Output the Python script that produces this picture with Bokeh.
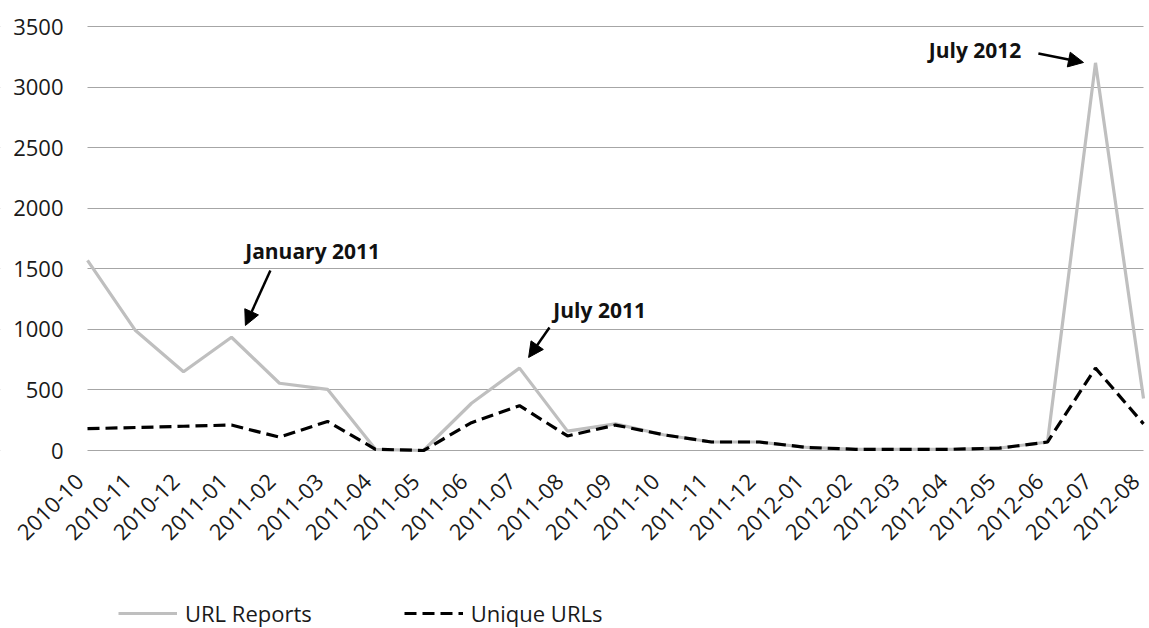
import math
from bokeh.plotting import figure
from bokeh.models import (ColumnDataSource, Range1d, FixedTicker, Legend, LegendItem,
                          Arrow, NormalHead, BoxAnnotation, LinearAxis)
from bokeh.core.properties import value
from bokeh.embed import file_html
from bokeh.resources import INLINE

months = ["2010-10", "2010-11", "2010-12", "2011-01", "2011-02", "2011-03", "2011-04",
          "2011-05", "2011-06", "2011-07", "2011-08", "2011-09", "2011-10", "2011-11",
          "2011-12", "2012-01", "2012-02", "2012-03", "2012-04", "2012-05", "2012-06",
          "2012-07", "2012-08"]
url_reports = [1570, 990, 650, 935, 555, 505, 10, 0, 390, 680, 160, 220, 130, 70,
               70, 25, 10, 10, 10, 20, 70, 3200, 430]
unique_urls = [180, 190, 200, 210, 110, 240, 10, 0, 230, 370, 120, 210, 130, 70,
               70, 25, 10, 10, 10, 20, 70, 680, 220]
y_ticks = [0, 500, 1000, 1500, 2000, 2500, 3000, 3500]

ann_text = ["January 2011", "July 2011", "July 2012"]
ann_x = [4.69, 10.67, 18.49]
ann_y = [1643, 1156, 3302]
arr_x0 = [3.81, 9.625, 19.81]
arr_y0 = [1486, 1015, 3277]
arr_x1 = [3.29, 9.19, 20.75]
arr_y1 = [1032, 768, 3203]

FONT = "Open Sans"
W, H = 1149, 628
# layout of the plotting area in pixels: first/last category columns, value 0 and 3500 rows
X_LEFT, X_RIGHT = 87, 1143
Y_ZERO, Y_TOP = 450, 26
LABEL_SHIFT = 8          # rotated category labels sit a little left of their column
n = len(months)
px_x = (X_RIGHT - X_LEFT) / (n - 1)
px_y = (Y_ZERO - Y_TOP) / y_ticks[-1]
# the frame covers the whole canvas so that axes, labels and legend are not clipped
x0, x1 = -X_LEFT / px_x, (n - 1) + (W - X_RIGHT) / px_x
x_range = Range1d(x0, x1)
y_range = Range1d(-(H - Y_ZERO) / px_y, Y_ZERO / px_y)

idx = list(range(n))
src = ColumnDataSource(dict(x=idx, reports=url_reports, unique=unique_urls))

p = figure(width=W, height=H, output_backend="svg", toolbar_location=None,
           x_range=x_range, y_range=y_range, x_axis_location=None,
           min_border_left=0, min_border_right=0, min_border_top=0, min_border_bottom=0)
p.outline_line_color = None
p.background_fill_color = "white"
p.extra_x_ranges = {"labels": Range1d(x0 + LABEL_SHIFT / px_x, x1 + LABEL_SHIFT / px_x)}

p.xgrid.visible = False
p.ygrid.ticker = FixedTicker(ticks=y_ticks)
p.ygrid.grid_line_color = "#a6a6a6"
p.ygrid.grid_line_width = 1.2

# white masks so that the gridlines only span the category range
p.add_layout(BoxAnnotation(right=0, fill_color="white", fill_alpha=1, line_alpha=0, level="underlay"))
p.add_layout(BoxAnnotation(left=n - 1, fill_color="white", fill_alpha=1, line_alpha=0, level="underlay"))

r1 = p.line("x", "reports", source=src, line_color="#bfbfbf", line_width=3.2)
r2 = p.line("x", "unique", source=src, line_color="black", line_width=3.2, line_dash="12 6")

xaxis = LinearAxis(x_range_name="labels")
p.add_layout(xaxis, "below")
xaxis.ticker = FixedTicker(ticks=idx)
xaxis.major_label_overrides = {i: m for i, m in enumerate(months)}
xaxis.major_label_orientation = math.pi / 4
xaxis.fixed_location = 0
p.yaxis.ticker = FixedTicker(ticks=y_ticks)
p.yaxis.fixed_location = 0
for ax in (xaxis, p.yaxis[0]):
    ax.axis_line_color = None
    ax.major_tick_line_color = None
    ax.minor_tick_line_color = None
    ax.major_tick_out = 0
    ax.major_tick_in = 0
    ax.major_label_text_font = FONT
    ax.major_label_text_font_size = "22px"
    ax.major_label_text_color = "#1a1a1a"
p.yaxis.major_label_standoff = 24
xaxis.major_label_standoff = 27

ann_src = ColumnDataSource(dict(x=ann_x, y=ann_y, text=ann_text))
p.text("x", "y", text="text", source=ann_src, text_font=value(FONT),
       text_font_style="bold", text_font_size="21px", text_align="center",
       text_baseline="middle", text_color="#111111")

arr_src = ColumnDataSource(dict(x0=arr_x0, y0=arr_y0, x1=arr_x1, y1=arr_y1))
p.add_layout(Arrow(end=NormalHead(size=15, fill_color="black", line_color="black"),
                   x_start="x0", y_start="y0", x_end="x1", y_end="y1",
                   source=arr_src, line_color="black", line_width=2.5))

legend = Legend(items=[LegendItem(label="URL Reports", renderers=[r1]),
                       LegendItem(label="Unique URLs", renderers=[r2])],
                orientation="horizontal", location=(X_LEFT + 31, 0), margin=0, padding=0,
                spacing=92, glyph_width=59, label_standoff=8,
                label_text_font=FONT, label_text_font_size="22px",
                label_text_color="#1a1a1a", border_line_color=None,
                background_fill_alpha=0)
p.add_layout(legend, "center")

open("out.html", "w").write(file_html(p, INLINE))
